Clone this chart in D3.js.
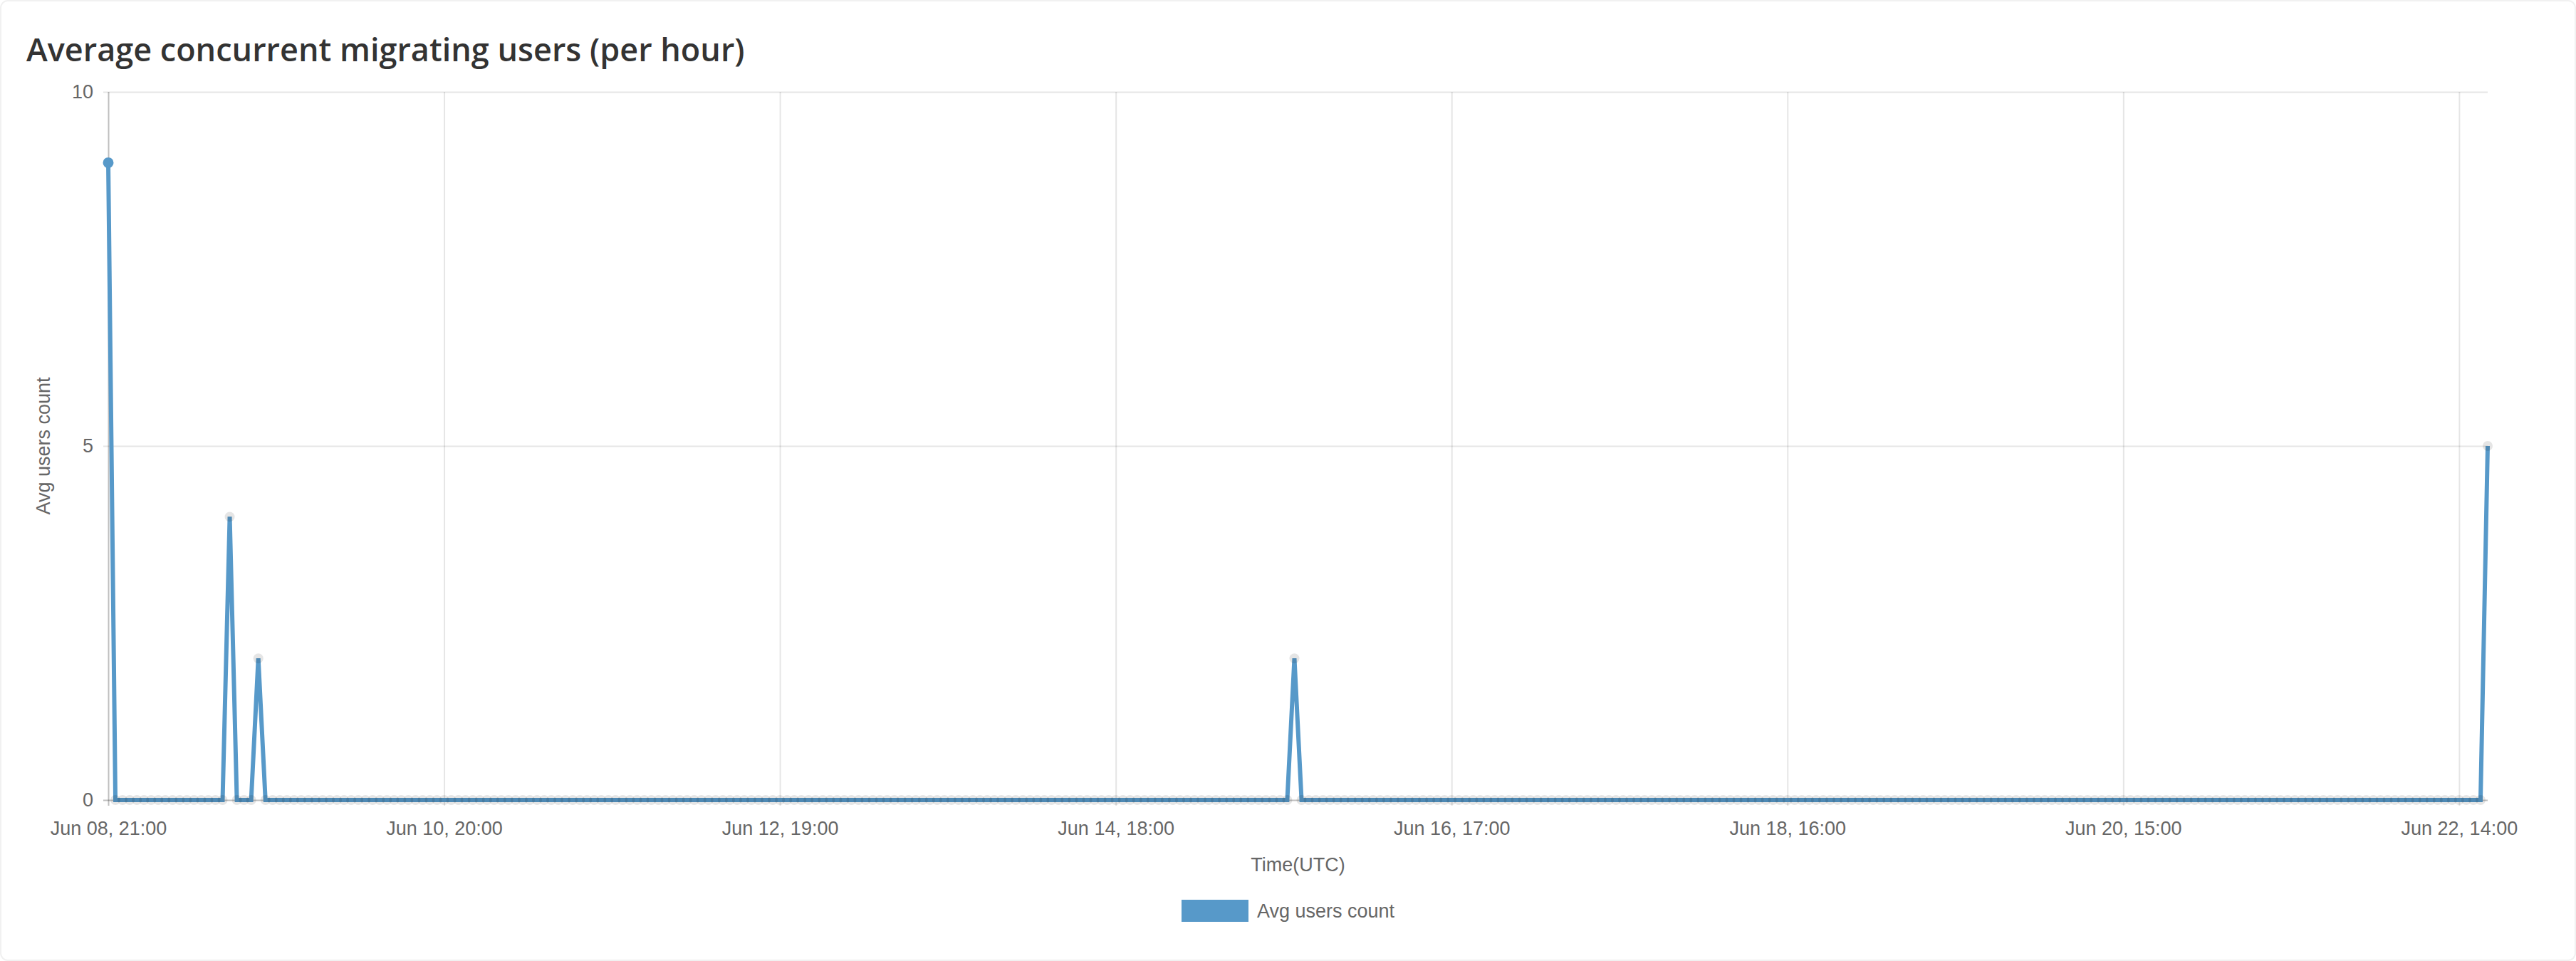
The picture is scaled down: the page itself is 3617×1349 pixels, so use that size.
<!DOCTYPE html>
<html>
<head>
<meta charset="utf-8">
<script src="https://cdn.jsdelivr.net/npm/d3@7"></script>
<style>
  html, body { margin: 0; padding: 0; background: #fff; }
  svg { display: block; }
</style>
</head>
<body>
<svg id="chart" width="3617" height="1349"></svg>
<script>
// ---------- data ----------
const chartTitle = "Average concurrent migrating users (per hour)";
const seriesName = "Avg users count";
const xAxisTitle = "Time(UTC)";
const yAxisTitle = "Avg users count";
const startHour = "2021-06-08T21:00:00Z";
const endHour = "2021-06-22T18:00:00Z";
// hourly averages, one per hour from Jun 08 21:00 to Jun 22 18:00 (334 values)
const avgUsers = [
  9,0,0,0,0,0,0,0,0,0,
  0,0,0,0,0,0,0,4,0,0,
  0,2,0,0,0,0,0,0,0,0,
  0,0,0,0,0,0,0,0,0,0,
  0,0,0,0,0,0,0,0,0,0,
  0,0,0,0,0,0,0,0,0,0,
  0,0,0,0,0,0,0,0,0,0,
  0,0,0,0,0,0,0,0,0,0,
  0,0,0,0,0,0,0,0,0,0,
  0,0,0,0,0,0,0,0,0,0,
  0,0,0,0,0,0,0,0,0,0,
  0,0,0,0,0,0,0,0,0,0,
  0,0,0,0,0,0,0,0,0,0,
  0,0,0,0,0,0,0,0,0,0,
  0,0,0,0,0,0,0,0,0,0,
  0,0,0,0,0,0,0,0,0,0,
  0,0,0,0,0,0,2,0,0,0,
  0,0,0,0,0,0,0,0,0,0,
  0,0,0,0,0,0,0,0,0,0,
  0,0,0,0,0,0,0,0,0,0,
  0,0,0,0,0,0,0,0,0,0,
  0,0,0,0,0,0,0,0,0,0,
  0,0,0,0,0,0,0,0,0,0,
  0,0,0,0,0,0,0,0,0,0,
  0,0,0,0,0,0,0,0,0,0,
  0,0,0,0,0,0,0,0,0,0,
  0,0,0,0,0,0,0,0,0,0,
  0,0,0,0,0,0,0,0,0,0,
  0,0,0,0,0,0,0,0,0,0,
  0,0,0,0,0,0,0,0,0,0,
  0,0,0,0,0,0,0,0,0,0,
  0,0,0,0,0,0,0,0,0,0,
  0,0,0,0,0,0,0,0,0,0,
  0,0,0,5
];
const xTickLabels = ["Jun 08, 21:00","Jun 10, 20:00","Jun 12, 19:00","Jun 14, 18:00",
                     "Jun 16, 17:00","Jun 18, 16:00","Jun 20, 15:00","Jun 22, 14:00"];
const yTickValues = [0, 5, 10];
const yDomain = [0, 10];

// ---------- layout ----------
const W = 3617, H = 1349;
const plot = { left: 152, right: 3493, top: 129, bottom: 1123 };
const lineColor = "#5799c9";
const textColor = "#666";
const tickFont = "Liberation Sans, Arial, sans-serif";

const hours = d3.utcHour.range(new Date(startHour), d3.utcHour.offset(new Date(endHour), 1));
const fmt = d3.utcFormat("%b %d, %H:%M");
const data = hours.map((t, i) => ({ t, label: fmt(t), v: avgUsers[i] }));

const svg = d3.select("#chart");

// card border
svg.append("rect")
  .attr("x", 1).attr("y", 1).attr("width", W - 2).attr("height", H - 2)
  .attr("rx", 10).attr("ry", 10)
  .attr("fill", "#fff").attr("stroke", "#f1f1f1").attr("stroke-width", 2);

// title
svg.append("text")
  .attr("x", 37).attr("y", 86)
  .attr("font-family", "Open Sans, sans-serif")
  .attr("font-weight", 600)
  .attr("font-size", 45)
  .attr("fill", "#333")
  .text(chartTitle);

const x = d3.scalePoint()
  .domain(data.map(d => d.label))
  .range([plot.left, plot.right]);

const y = d3.scaleLinear()
  .domain(yDomain)
  .range([plot.bottom, plot.top]);

// y axis with grid
const yAxis = d3.axisLeft(y)
  .tickValues(yTickValues)
  .tickSize(-(plot.right - plot.left) - 7)
  .tickPadding(14)
  .tickFormat(d3.format("d"));

const gy = svg.append("g")
  .attr("transform", `translate(${plot.left - 7},0)`)
  .call(yAxis);
gy.select(".domain").remove();
gy.selectAll(".tick line")
  .attr("stroke", d => d === 0 ? "rgba(0,0,0,0.25)" : "rgba(0,0,0,0.1)")
  .attr("stroke-width", 2);
gy.selectAll(".tick text")
  .attr("font-family", tickFont).attr("font-size", 27).attr("fill", textColor);

// x axis with grid
const xAxis = d3.axisBottom(x)
  .tickValues(xTickLabels)
  .tickSize(-(plot.bottom - plot.top) - 8)
  .tickPadding(22);

const gx = svg.append("g")
  .attr("transform", `translate(0,${plot.bottom + 8})`)
  .call(xAxis);
gx.select(".domain").remove();
gx.selectAll(".tick line")
  .attr("stroke", (d, i) => i === 0 ? "rgba(0,0,0,0.25)" : "rgba(0,0,0,0.1)")
  .attr("stroke-width", 2);
gx.selectAll(".tick text")
  .attr("font-family", tickFont).attr("font-size", 27).attr("fill", textColor);

// axis titles
svg.append("text")
  .attr("x", (plot.left + plot.right) / 2).attr("y", 1223)
  .attr("text-anchor", "middle")
  .attr("font-family", tickFont).attr("font-size", 27).attr("fill", textColor)
  .text(xAxisTitle);

svg.append("text")
  .attr("transform", `translate(70,${(plot.top + plot.bottom) / 2}) rotate(-90)`)
  .attr("text-anchor", "middle")
  .attr("font-family", tickFont).attr("font-size", 27).attr("fill", textColor)
  .text(yAxisTitle);

// line
const line = d3.line()
  .x(d => x(d.label))
  .y(d => y(d.v));

svg.append("path")
  .datum(data)
  .attr("fill", "none")
  .attr("stroke", lineColor)
  .attr("stroke-width", 6)
  .attr("stroke-linejoin", "miter")
  .attr("d", line);

// points
svg.append("g")
  .selectAll("circle")
  .data(data)
  .join("circle")
  .attr("cx", d => x(d.label))
  .attr("cy", d => y(d.v))
  .attr("r", (d, i) => i === 0 ? 6 : 7)
  .attr("fill", (d, i) => i === 0 ? lineColor : "rgba(0,0,0,0.1)")
  .attr("stroke", (d, i) => i === 0 ? lineColor : "none")
  .attr("stroke-width", 3);

// legend
const lg = svg.append("g");
lg.append("rect")
  .attr("x", 1659).attr("y", 1263).attr("width", 94).attr("height", 31)
  .attr("fill", lineColor);
lg.append("text")
  .attr("x", 1765).attr("y", 1288)
  .attr("font-family", tickFont).attr("font-size", 27).attr("fill", textColor)
  .text(seriesName);
</script>
</body>
</html>
